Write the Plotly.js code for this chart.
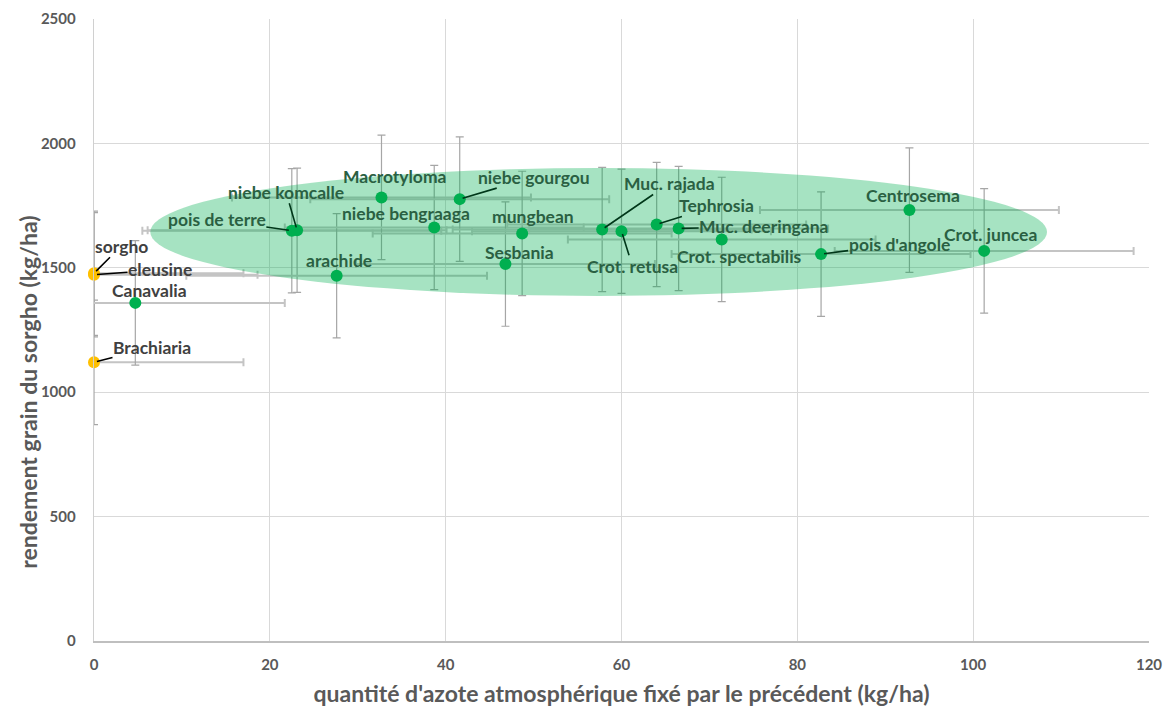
<!DOCTYPE html>
<html><head><meta charset="utf-8">
<script src="https://cdn.plot.ly/plotly-3.0.1.min.js"></script>
<style>html,body{margin:0;padding:0;background:#fff}#chart{width:1171px;height:712px}</style>
</head><body><div id="chart"></div>
<script>
// ---- data ----
const precedents = ["sorgho","eleusine","Brachiaria","Canavalia","pois de terre","niebe komcalle","arachide","Macrotyloma","niebe bengraaga","niebe gourgou","Sesbania","mungbean","Muc. rajada","Crot. retusa","Tephrosia","Muc. deeringana","Crot. spectabilis","pois d'angole","Centrosema","Crot. juncea"];
const azoteFixe = [0,0,0,4.7,22.5,23.1,27.6,32.7,38.7,41.6,46.8,48.7,57.8,60.0,64.0,66.5,71.4,82.7,92.75,101.25];
const rendementSorgho = [1478,1472,1120,1359,1649,1651,1468,1783,1662,1776,1515,1638,1654,1647,1674,1658,1614,1555,1732,1568];
const erreurAzote = [17,18.6,17,17,17,17,17.1,17,17,17,17,17,17,17,17,17,17.5,17,17,17];
const erreurRendement = [250,250,250,250,250,250,250,250,250,250,250,250,250,250,250,250,250,250,250,250];
const typePrecedent = ["graminée","graminée","graminée","légumineuse","légumineuse","légumineuse","légumineuse","légumineuse","légumineuse","légumineuse","légumineuse","légumineuse","légumineuse","légumineuse","légumineuse","légumineuse","légumineuse","légumineuse","légumineuse","légumineuse"];
const zoneAzote = [6.4, 108.4];
const zoneRendement = [1387, 1901];
const xTicks = [0,20,40,60,80,100,120];
const yTicks = [0,500,1000,1500,2000,2500];

// ---- layout helpers (pixel offsets of labels) ----
const labelOffset = {
  "sorgho":[27,-27], "eleusine":[66,-5], "Brachiaria":[58,-15], "Canavalia":[14,-12],
  "pois de terre":[-75,-11], "niebe komcalle":[-11,-38], "arachide":[2,-15], "Macrotyloma":[13,-21],
  "niebe bengraaga":[-28,-14], "niebe gourgou":[74,-22], "Sesbania":[14,-12], "mungbean":[11,-17],
  "Muc. rajada":[67,-46], "Crot. retusa":[11,35], "Tephrosia":[60,-19], "Muc. deeringana":[85,-2],
  "Crot. spectabilis":[18,17], "pois d'angole":[78,-10], "Centrosema":[4,-15], "Crot. juncea":[6,-16]
};
const withLeader = new Set(["sorgho","eleusine","Brachiaria","pois de terre","niebe komcalle","niebe gourgou","Muc. rajada","Crot. retusa","Tephrosia","Muc. deeringana","pois d'angole"]);

const FONT = "Lato, 'Open Sans', sans-serif";
const cx = (zoneAzote[0]+zoneAzote[1])/2, rx = (zoneAzote[1]-zoneAzote[0])/2;
const cy = (zoneRendement[0]+zoneRendement[1])/2, ry = (zoneRendement[1]-zoneRendement[0])/2;
function inZone(i){
  const a=(azoteFixe[i]-cx)/rx, b=(rendementSorgho[i]-cy)/ry;
  return a*a+b*b <= 1.0;
}

const idx = precedents.map((_,i)=>i);
const sel = (arr, t) => idx.filter(i=>typePrecedent[i]===t).map(i=>arr[i]);

const traces = [
  { // error bars (clipped to plot area)
    x: azoteFixe, y: rendementSorgho, type:'scatter', mode:'markers',
    marker:{size:1, opacity:0}, hoverinfo:'skip', showlegend:false,
    error_x:{type:'data', array:erreurAzote, color:'#c4c4c4', thickness:2, width:4},
    error_y:{type:'data', array:erreurRendement, color:'#a6a6a6', thickness:1.2, width:4}
  },
  {
    x: sel(azoteFixe,'légumineuse'), y: sel(rendementSorgho,'légumineuse'), text: sel(precedents,'légumineuse'),
    type:'scatter', mode:'markers', cliponaxis:false, showlegend:false,
    marker:{size:12, color:'#00B050'}
  },
  {
    x: sel(azoteFixe,'graminée').reverse(), y: sel(rendementSorgho,'graminée').reverse(), text: sel(precedents,'graminée').reverse(),
    type:'scatter', mode:'markers', cliponaxis:false, showlegend:false,
    marker:{size:12, color:'#FFC000'}
  }
];

const annotations = precedents.map((name,i)=>{
  const inside = inZone(i);
  const o = labelOffset[name];
  return {
    x: azoteFixe[i], y: rendementSorgho[i], xref:'x', yref:'y',
    text: name, showarrow:true, ax:o[0], ay:o[1], axref:'pixel', ayref:'pixel',
    arrowhead:0, arrowwidth:1.6, standoff:3, startstandoff:0, borderpad:0,
    arrowcolor: withLeader.has(name) ? (inside ? 'rgb(0,55,25)' : '#000000') : 'rgba(0,0,0,0)',
    font:{family:FONT, size:17.5, weight:'bold', color: inside ? 'rgb(42,96,66)' : '#404040'}
  };
});
annotations.push({
  text:"rendement grain du sorgho (kg/ha)", textangle:-90,
  xref:'paper', yref:'paper', x:0, y:0.399, xanchor:'center', yanchor:'middle',
  xshift:-66, showarrow:false,
  font:{family:FONT, size:23, weight:'bold', color:'#595959'}
});

const layout = {
  width:1171, height:712,
  margin:{l:94, r:22, t:19, b:71},
  paper_bgcolor:'#ffffff', plot_bgcolor:'#ffffff',
  showlegend:false,
  xaxis:{
    range:[0,120], tickvals:xTicks, ticktext:xTicks.map(String),
    showgrid:true, gridcolor:'#d9d9d9', gridwidth:1.3, zeroline:false,
    showline:true, linecolor:'#bfbfbf', linewidth:1.5, ticks:'', ticklabelstandoff:9,
    tickfont:{family:FONT, size:15, weight:'bold', color:'#595959'},
    title:{text:"quantité d'azote atmosphérique fixé par le précédent (kg/ha)", standoff:14,
      font:{family:FONT, size:23, weight:'bold', color:'#595959'}}
  },
  yaxis:{
    range:[0,2500], tickvals:yTicks, ticktext:yTicks.map(String),
    showgrid:true, gridcolor:'#d9d9d9', gridwidth:1.3, zeroline:false,
    showline:true, linecolor:'#d0d0d0', linewidth:1.3, ticks:'', ticklabelstandoff:14,
    tickfont:{family:FONT, size:15, weight:'bold', color:'#595959'}
  },
  shapes:[{
    type:'circle', xref:'x', yref:'y', layer:'above',
    x0:zoneAzote[0], x1:zoneAzote[1], y0:zoneRendement[0], y1:zoneRendement[1],
    fillcolor:'rgba(0,176,80,0.35)', line:{width:0}
  }],
  annotations: annotations
};

Plotly.newPlot('chart', traces, layout, {displayModeBar:false, staticPlot:true});
</script>
</body></html>
